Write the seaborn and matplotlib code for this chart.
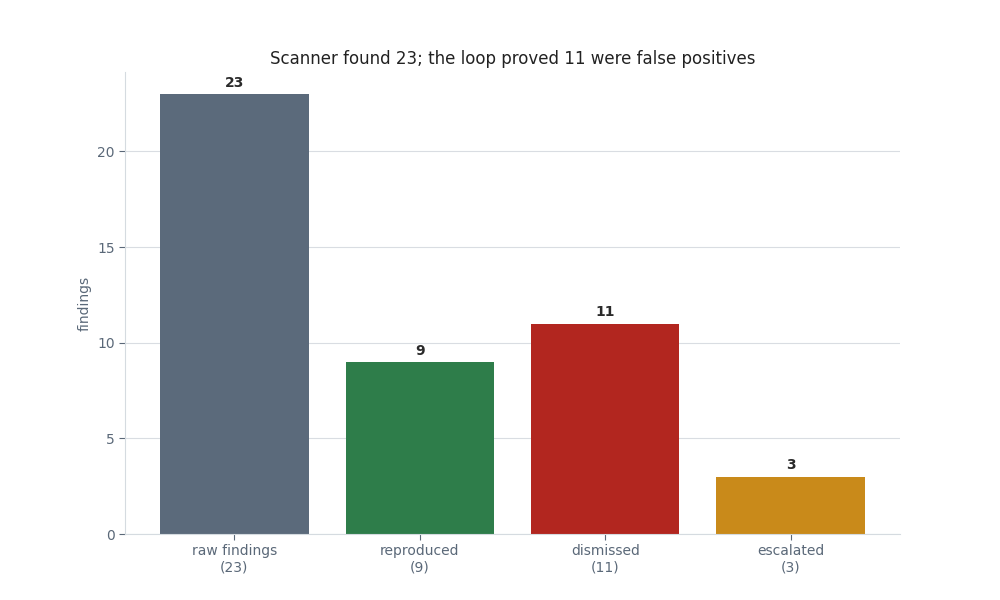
import matplotlib
matplotlib.use("Agg")
import matplotlib.pyplot as plt
import seaborn as sns
import pandas as pd

categories = ["raw findings", "reproduced", "dismissed", "escalated"]
values = [23, 9, 11, 3]
colors = ["#5b6a7b", "#2e7d4a", "#b2261f", "#c98a1a"]

sns.set_theme(style="white")
plt.rcParams['font.family'] = ['DejaVu Sans']

df = pd.DataFrame({"cat": categories, "val": values})
fig, ax = plt.subplots(figsize=(10, 6), dpi=100)
sns.barplot(data=df, x="cat", y="val", hue="cat", palette=colors, legend=False,
            width=0.8, ax=ax, saturation=1, linewidth=0, edgecolor="none")

tick_col = "#5a6878"
ax.set_xticks(range(len(categories)))
ax.set_xticklabels([f"{c}\n({v})" for c, v in zip(categories, values)], color=tick_col, fontsize=10)
ax.tick_params(axis="y", labelcolor=tick_col, labelsize=10, colors=tick_col, length=4, width=0.8, left=True)
ax.tick_params(axis="x", colors=tick_col, length=4, width=0.8, bottom=True)
for lbl in ax.get_xticklabels():
    lbl.set_color(tick_col)
ax.set_xlabel("")
ax.set_ylabel("findings", color=tick_col, fontsize=10)
ax.set_title("Scanner found 23; the loop proved 11 were false positives", fontsize=12, color="#222222")
ax.set_xlim(-0.59, 3.59)
ax.set_ylim(0, max(values) * 1.05)
ax.set_yticks([0, 5, 10, 15, 20])
ax.yaxis.grid(True, color="#d9dde2", linewidth=0.8)
ax.set_axisbelow(True)
for s in ["top", "right"]:
    ax.spines[s].set_visible(False)
for s in ["left", "bottom"]:
    ax.spines[s].set_color("#d5dbe0")
    ax.spines[s].set_linewidth(0.8)

for i, v in enumerate(values):
    ax.annotate(str(v), (i, v), xytext=(0, 3), textcoords="offset points",
                ha="center", va="bottom", fontsize=10, fontweight="bold", color="#2a2a2a")

fig.savefig("out.png", dpi=100)
